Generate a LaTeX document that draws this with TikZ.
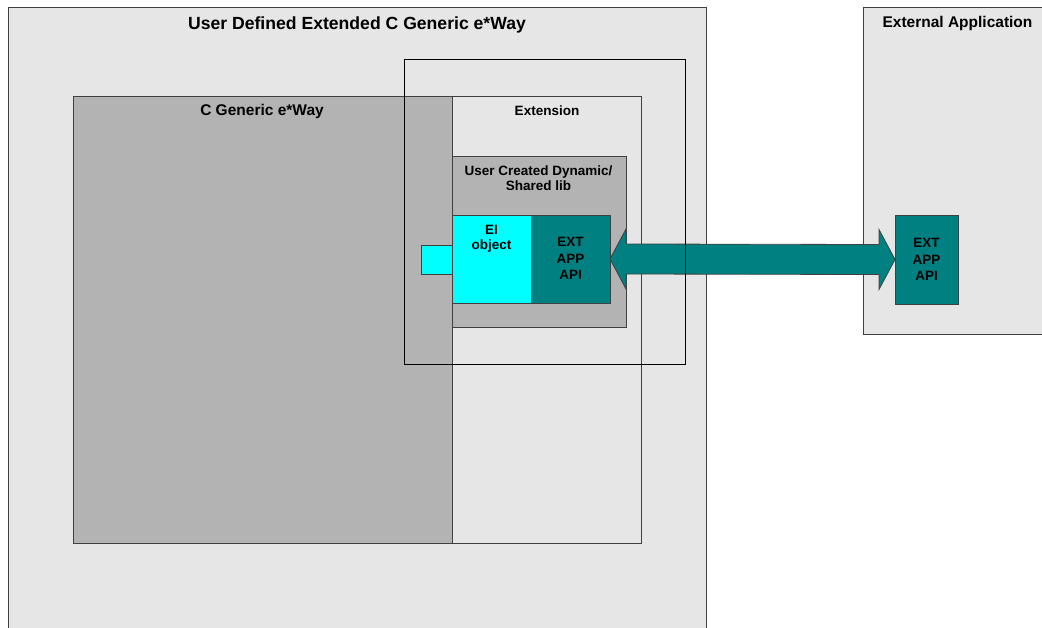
\documentclass[tikz,border=0pt]{standalone}
\usepackage{fontspec}
\setmainfont{Liberation Sans}
\usetikzlibrary{calc}
\definecolor{panel}{HTML}{E6E6E6}
\definecolor{midgray}{HTML}{B3B3B3}
\definecolor{tealc}{HTML}{008080}
\definecolor{aqua}{HTML}{00FFFF}
\definecolor{edge}{HTML}{404040}
\begin{document}
\begin{tikzpicture}[x=1pt,y=-1pt,
  box/.style={draw=edge, line width=0.8pt, anchor=north west, inner sep=0pt, outer sep=0pt},
  big/.style={font=\bfseries\fontsize{15.5}{18}\selectfont, inner sep=0pt, anchor=base},
  small/.style={font=\bfseries\fontsize{13.5}{16.5}\selectfont, inner sep=0pt, align=center},
  arrowst/.style={draw=edge, line width=0.8pt, fill=tealc, line join=miter}]
\useasboundingbox (0,0) rectangle (1042,627);
\clip (0,0) rectangle (1042,627);
% containers
\node[box, fill=panel, minimum width=698, minimum height=640] (outer) at (8,7) {};
\node[box, fill=panel, minimum width=220, minimum height=327] (extapp) at (863,7) {};
\node[box, fill=midgray, minimum width=379, minimum height=447] (cgen) at (73,96) {};
\node[box, fill=panel, minimum width=189, minimum height=447] (ext) at (452,96) {};
\node[box, fill=midgray, minimum width=174, minimum height=171] (lib) at (452,156) {};
\node[box, fill=aqua, minimum width=31, minimum height=29] (tab) at (421,245) {};
\node[box, fill=aqua, minimum width=79, minimum height=88] (ei) at (452,215) {};
\node[box, fill=tealc, minimum width=79, minimum height=88] (extL) at (531,215) {};
\node[box, fill=tealc, minimum width=63, minimum height=89] (extR) at (895,215) {};
% double arrow
\draw[arrowst] (extL.east) -- ++(16,-30) -- ++(0,15)
  -- ($(extR.west)+(-16,-15)$) -- ++(0,-15) -- (extR.west) -- ++(-16,30) -- ++(0,-15)
  -- ($(extL.east)+(16,15)$) -- ++(0,15) -- cycle;
% frame on top
\node[draw=black, line width=0.8pt, anchor=north west, inner sep=0pt, minimum width=281, minimum height=305] (frame) at (404,59) {};
% labels
\node[big, font=\bfseries\fontsize{17.6}{20}\selectfont] (tOuter) at (357,29.3) {User Defined Extended C Generic e*Way};
\node[big] (tExtApp) at (957.5,27.3) {External Application};
\node[big] (tCgen) at (262,115.3) {C Generic e*Way};
\node[small, anchor=base] (tExt) at (547,115) {Extension};
\node[small, anchor=north, font=\bfseries\fontsize{13.5}{15.5}\selectfont] (tLib) at (538.5,165.3) {User Created Dynamic/\\Shared lib};
\node[small, anchor=north, font=\bfseries\fontsize{13.5}{15.5}\selectfont] (tEI) at (491.5,224.6) {EI\\object};
\node[small, anchor=north] (tExtL) at (570.5,237.3) {EXT\\APP\\API};
\node[small, anchor=north] (tExtR) at (926.5,238.3) {EXT\\APP\\API};
\end{tikzpicture}
\end{document}
